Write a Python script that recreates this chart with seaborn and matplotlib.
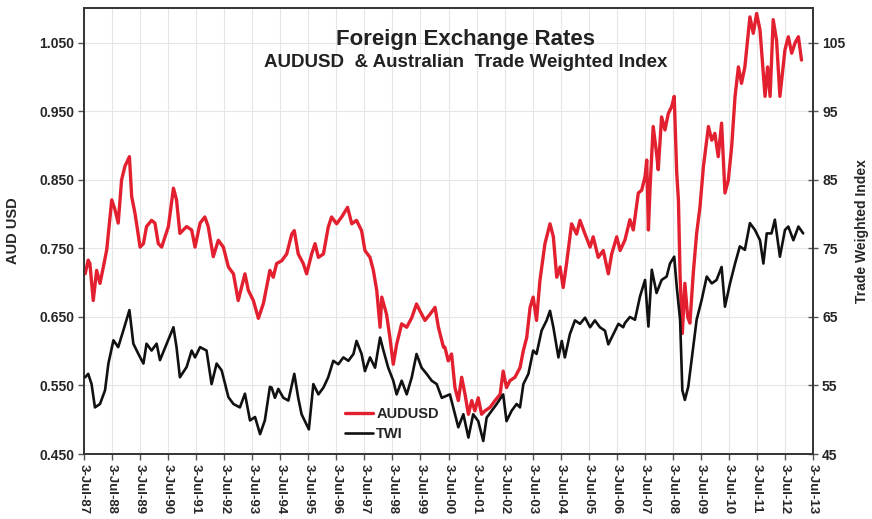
import matplotlib
matplotlib.use("Agg")
import matplotlib.pyplot as plt
import seaborn as sns
import pandas as pd
from matplotlib.lines import Line2D

# ---------------- data (decimal years) ----------------
aud_years = [
    1987.54, 1987.65, 1987.71, 1987.83, 1987.95, 1988.07, 1988.19, 1988.31, 1988.49, 1988.61,
    1988.72, 1988.84, 1988.96, 1989.12, 1989.20, 1989.32, 1989.50, 1989.62, 1989.73, 1989.91,
    1990.03, 1990.15, 1990.27, 1990.51, 1990.69, 1990.80, 1990.92, 1991.16, 1991.34, 1991.46,
    1991.64, 1991.81, 1991.93, 1992.11, 1992.29, 1992.47, 1992.65, 1992.83, 1993.00, 1993.24,
    1993.36, 1993.54, 1993.72, 1993.90, 1994.13,
    1994.25, 1994.37, 1994.55, 1994.73, 1994.91, 1995.00, 1995.14, 1995.32, 1995.44, 1995.62,
    1995.74, 1995.86, 1996.04, 1996.21, 1996.33, 1996.51, 1996.69, 1996.90, 1997.05, 1997.22,
    1997.40, 1997.52, 1997.70, 1997.82, 1997.94, 1998.06, 1998.12, 1998.29, 1998.41, 1998.53,
    1998.65, 1998.83, 1999.01, 1999.19, 1999.36, 1999.48, 1999.66, 1999.84, 2000.02, 2000.14,
    2000.32,
    2000.37, 2000.49, 2000.61, 2000.73, 2000.85, 2000.97, 2001.09, 2001.21, 2001.33, 2001.44,
    2001.56, 2001.68, 2001.80, 2001.98, 2002.16, 2002.34, 2002.45, 2002.57, 2002.69, 2002.87,
    2003.05, 2003.17, 2003.29, 2003.41, 2003.52, 2003.64, 2003.76, 2003.94, 2004.12, 2004.24,
    2004.36, 2004.48, 2004.59, 2004.71, 2004.89, 2005.07, 2005.19, 2005.37, 2005.55, 2005.66,
    2005.84, 2006.02, 2006.20, 2006.32, 2006.50, 2006.62,
    2006.79, 2006.97, 2007.09, 2007.27, 2007.39, 2007.51, 2007.57, 2007.63, 2007.69, 2007.80,
    2007.92, 2007.98, 2008.10, 2008.22, 2008.34, 2008.46, 2008.55, 2008.64, 2008.70, 2008.76,
    2008.84, 2008.93, 2009.03, 2009.11, 2009.23, 2009.35, 2009.47, 2009.59, 2009.77, 2009.89,
    2010.00, 2010.12, 2010.24, 2010.36, 2010.48, 2010.60, 2010.72, 2010.84, 2010.95, 2011.07,
    2011.25, 2011.37, 2011.49, 2011.61, 2011.69, 2011.79, 2011.88, 2011.97, 2012.08, 2012.20,
    2012.32, 2012.50, 2012.62, 2012.74, 2012.86, 2012.98, 2013.09,
]
audusd = [
    0.713, 0.733, 0.728, 0.674, 0.718, 0.699, 0.723, 0.748, 0.821, 0.806,
    0.787, 0.850, 0.870, 0.884, 0.826, 0.801, 0.752, 0.757, 0.782, 0.791,
    0.787, 0.757, 0.752, 0.782, 0.838, 0.821, 0.772, 0.782, 0.777, 0.752,
    0.787, 0.796, 0.782, 0.738, 0.762, 0.752, 0.723, 0.713, 0.674, 0.713,
    0.689, 0.674, 0.648, 0.670, 0.718,
    0.708, 0.728, 0.732, 0.742, 0.771, 0.776, 0.742, 0.728, 0.713, 0.742,
    0.757, 0.737, 0.742, 0.781, 0.796, 0.786, 0.796, 0.810, 0.786, 0.791,
    0.776, 0.747, 0.737, 0.718, 0.689, 0.635, 0.679, 0.654, 0.620, 0.581,
    0.610, 0.640, 0.635, 0.649, 0.669, 0.659, 0.645, 0.654, 0.664, 0.635,
    0.606,
    0.606, 0.586, 0.596, 0.547, 0.528, 0.562, 0.537, 0.508, 0.528, 0.513,
    0.532, 0.508, 0.513, 0.518, 0.528, 0.537, 0.571, 0.547, 0.557, 0.562,
    0.576, 0.601, 0.620, 0.664, 0.679, 0.645, 0.703, 0.757, 0.786, 0.767,
    0.708, 0.723, 0.693, 0.728, 0.786, 0.771, 0.791, 0.771, 0.752, 0.767,
    0.737, 0.747, 0.713, 0.742, 0.767, 0.747,
    0.762, 0.792, 0.777, 0.831, 0.835, 0.855, 0.879, 0.777, 0.840, 0.928,
    0.889, 0.865, 0.942, 0.923, 0.947, 0.957, 0.972, 0.860, 0.821, 0.709,
    0.626, 0.699, 0.650, 0.641, 0.714, 0.772, 0.811, 0.869, 0.928, 0.908,
    0.918, 0.884, 0.933, 0.831, 0.850, 0.899, 0.972, 1.015, 0.991, 1.015,
    1.088, 1.064, 1.093, 1.069, 1.025, 0.972, 1.015, 0.972, 1.084, 1.054,
    0.972, 1.040, 1.059, 1.035, 1.050, 1.059, 1.025,
]

twi_years = [
    1987.54, 1987.65, 1987.77, 1987.89, 1988.07, 1988.25, 1988.37, 1988.55, 1988.72, 1988.90,
    1989.12, 1989.26, 1989.44, 1989.62, 1989.73, 1989.91, 1990.09, 1990.21, 1990.45, 1990.69,
    1990.80, 1990.92, 1991.16, 1991.34, 1991.46, 1991.64, 1991.87, 1992.05, 1992.23, 1992.41,
    1992.65, 1992.83, 1993.06, 1993.24, 1993.42, 1993.60, 1993.78, 1993.95, 1994.13,
    1994.19, 1994.31, 1994.43, 1994.61, 1994.79, 1995.00, 1995.14, 1995.26, 1995.44, 1995.52,
    1995.68, 1995.86, 1996.04, 1996.21, 1996.39, 1996.57, 1996.75, 1996.93, 1997.11, 1997.22,
    1997.40, 1997.52, 1997.70, 1997.88, 1998.06, 1998.18, 1998.35, 1998.53, 1998.65, 1998.83,
    1999.01, 1999.19, 1999.36, 1999.54, 1999.72, 1999.90, 2000.08, 2000.26,
    2000.55, 2000.67, 2000.85, 2001.03, 2001.21, 2001.38, 2001.56, 2001.74, 2001.86, 2002.04,
    2002.22, 2002.45, 2002.57, 2002.75, 2002.93, 2003.05, 2003.17, 2003.35, 2003.52, 2003.64,
    2003.82, 2004.00, 2004.12, 2004.24, 2004.42, 2004.54, 2004.65, 2004.83, 2005.01, 2005.19,
    2005.37, 2005.55, 2005.72, 2005.90, 2006.08, 2006.20, 2006.38, 2006.56, 2006.73,
    2006.79, 2006.97, 2007.15, 2007.33, 2007.51, 2007.63, 2007.75, 2007.92, 2008.10, 2008.28,
    2008.40, 2008.55, 2008.64, 2008.76, 2008.84, 2008.93, 2009.05, 2009.17, 2009.35, 2009.53,
    2009.71, 2009.89, 2010.06, 2010.24, 2010.36, 2010.54, 2010.72, 2010.89, 2011.07, 2011.25,
    2011.43, 2011.61, 2011.73, 2011.85, 2012.02, 2012.14, 2012.32, 2012.50, 2012.62, 2012.80,
    2012.98, 2013.15,
]
twi = [
    56.2, 56.7, 55.2, 51.8, 52.3, 54.3, 58.2, 61.6, 60.6, 63.0,
    66.0, 61.1, 59.6, 58.2, 61.1, 60.1, 61.1, 58.7, 61.1, 63.5,
    60.6, 56.2, 57.7, 60.1, 59.1, 60.6, 60.1, 55.2, 58.2, 57.2,
    53.3, 52.3, 51.8, 53.8, 49.9, 50.4, 47.9, 49.9, 54.8,
    54.7, 53.2, 54.5, 53.2, 52.8, 56.7, 53.2, 50.8, 49.3, 48.6,
    55.2, 53.7, 54.7, 56.2, 58.6, 58.1, 59.1, 58.6, 59.6, 61.5,
    59.6, 57.1, 59.1, 57.6, 62.0, 60.1, 57.6, 55.7, 53.7, 55.7,
    53.7, 56.2, 59.6, 57.6, 56.7, 55.7, 55.2, 53.2,
    53.7, 51.8, 48.9, 50.8, 47.4, 50.8, 49.8, 46.9, 50.3, 51.3,
    52.3, 53.7, 49.8, 51.3, 52.3, 51.8, 55.2, 56.7, 60.1, 59.6,
    63.0, 64.5, 65.9, 63.5, 59.1, 61.5, 59.1, 62.5, 64.5, 64.0,
    64.9, 63.5, 64.5, 63.5, 63.0, 61.0, 62.5, 64.0, 63.5,
    64.1, 65.0, 64.6, 68.0, 70.4, 63.6, 71.9, 68.5, 70.4, 70.9,
    72.8, 73.8, 69.4, 64.6, 54.3, 52.9, 54.8, 58.7, 64.6, 67.5,
    70.9, 69.9, 70.4, 72.3, 66.5, 69.9, 72.8, 75.3, 74.8, 78.7,
    77.7, 76.2, 72.8, 77.2, 77.2, 79.2, 73.8, 77.7, 78.2, 76.2,
    78.2, 77.2,
]

tick_years = list(range(1987, 2014))
tick_labels = [f"3-Jul-{y % 100:02d}" for y in tick_years]
left_ticks = [0.450, 0.550, 0.650, 0.750, 0.850, 0.950, 1.050]
right_ticks = [45, 55, 65, 75, 85, 95, 105]

# ---------------- styling ----------------
sns.set_theme(style="white")
plt.rcParams["font.family"] = ["Liberation Sans", "DejaVu Sans"]
plt.rcParams["font.weight"] = "bold"

RED = "#e3202f"

fig = plt.figure(figsize=(8.72, 5.19), dpi=100)
ax = fig.add_axes([84 / 872, 1 - 454 / 519, (813 - 84) / 872, (454 - 8) / 519])

df_aud = pd.DataFrame({"year": aud_years, "value": audusd})
df_twi = pd.DataFrame({"year": twi_years, "value": twi})

sns.lineplot(data=df_aud, x="year", y="value", ax=ax, color=RED, linewidth=2.4,
             estimator=None, sort=False, zorder=3)
ax.set_ylim(0.45, 1.101)
ax.set_xlim(1987.5, 2013.5)

ax2 = ax.twinx()
sns.lineplot(data=df_twi, x="year", y="value", ax=ax2, color="#111111", linewidth=1.9,
             estimator=None, sort=False, zorder=3)
ax2.set_ylim(45, 110.1)
ax2.set_xlim(1987.5, 2013.5)

# ticks
ax.set_xticks([y + 0.5 for y in tick_years])
ax.set_xticklabels(tick_labels, rotation=270, fontsize=9.5, fontweight="bold")
ax.set_yticks(left_ticks)
ax.set_yticklabels([f"{v:.3f}" for v in left_ticks], fontsize=10, fontweight="bold")
ax2.set_yticks(right_ticks)
ax2.set_yticklabels([str(v) for v in right_ticks], fontsize=10, fontweight="bold")

ax.tick_params(axis="x", direction="out", length=4, width=1, color="#555555", pad=3,
               bottom=True)
ax.tick_params(axis="y", direction="out", length=4, width=1, color="#555555", pad=3,
               left=True)
ax2.tick_params(axis="y", direction="inout", length=7, width=1, color="#555555", pad=3,
                right=True)

ax.grid(True, color="#e6e6e6", linewidth=0.8)
ax2.grid(False)
ax.set_axisbelow(True)

for a in (ax, ax2):
    for s in a.spines.values():
        s.set_color("#333333")
        s.set_linewidth(1.2)

ax.set_xlabel("")
ax.set_ylabel("AUD USD", fontsize=10.5, fontweight="bold", labelpad=14)
ax2.set_ylabel("Trade Weighted Index", fontsize=10, fontweight="bold", labelpad=7,
               rotation=90)

# titles
ax.text(0.524, 0.93, "Foreign Exchange Rates", transform=ax.transAxes, ha="center",
        va="center", fontsize=16, fontweight="bold", color="#222222")
ax.text(0.524, 0.877, "AUDUSD  & Australian  Trade Weighted Index", transform=ax.transAxes,
        ha="center", va="center", fontsize=13.5, fontweight="bold", color="#222222")

# legend
handles = [Line2D([0], [0], color=RED, lw=2.4), Line2D([0], [0], color="#111111", lw=1.9)]
leg = ax2.legend(handles, ["AUDUSD", "TWI"], loc="upper left",
                 bbox_to_anchor=(0.34, 0.135), frameon=False, fontsize=10.5,
                 handlelength=1.9, handletextpad=0.25, labelspacing=0.45)
for t in leg.get_texts():
    t.set_fontweight("bold")

fig.savefig("out.png", dpi=100)
